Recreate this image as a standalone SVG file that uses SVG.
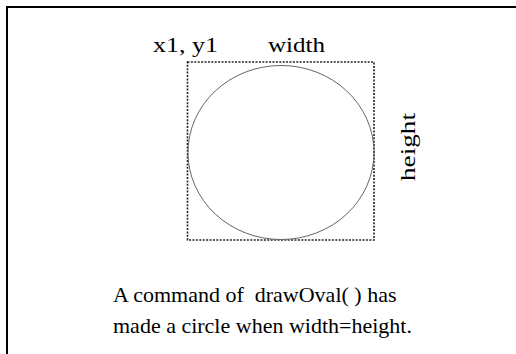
<svg xmlns="http://www.w3.org/2000/svg" width="516" height="354" viewBox="0 0 516 354">
<style>
.lbl{font-family:"Liberation Serif","Times New Roman",serif;fill:#000}
.top{font-size:21px}
.cap{font-size:22px}
</style>
<rect width="516" height="354" fill="#fff"/>
<g id="frame">
<path d="M7,356 V7 H518" fill="none" stroke="#000" stroke-width="2"/>
</g>
<g id="bounds">
<rect x="187.5" y="62" width="186.5" height="178" fill="none" stroke="#222" stroke-width="1.6" stroke-dasharray="2 1.4"/>
</g>
<g id="oval">
<ellipse cx="281" cy="152.5" rx="93" ry="87" fill="none" stroke="#666" stroke-width="1"/>
</g>
<g id="labels">
<text class="lbl top" x="153" y="52" textLength="65" lengthAdjust="spacingAndGlyphs">x1, y1</text>
<text class="lbl top" x="268" y="52" textLength="57" lengthAdjust="spacingAndGlyphs">width</text>
<text class="lbl top" transform="translate(415,181) rotate(-90)" textLength="68" lengthAdjust="spacingAndGlyphs">height</text>
</g>
<g id="caption">
<text class="lbl cap" x="113" y="302" xml:space="preserve">A command of  drawOval( ) has</text>
<text class="lbl cap" x="113" y="333">made a circle when width=height.</text>
</g>
</svg>
